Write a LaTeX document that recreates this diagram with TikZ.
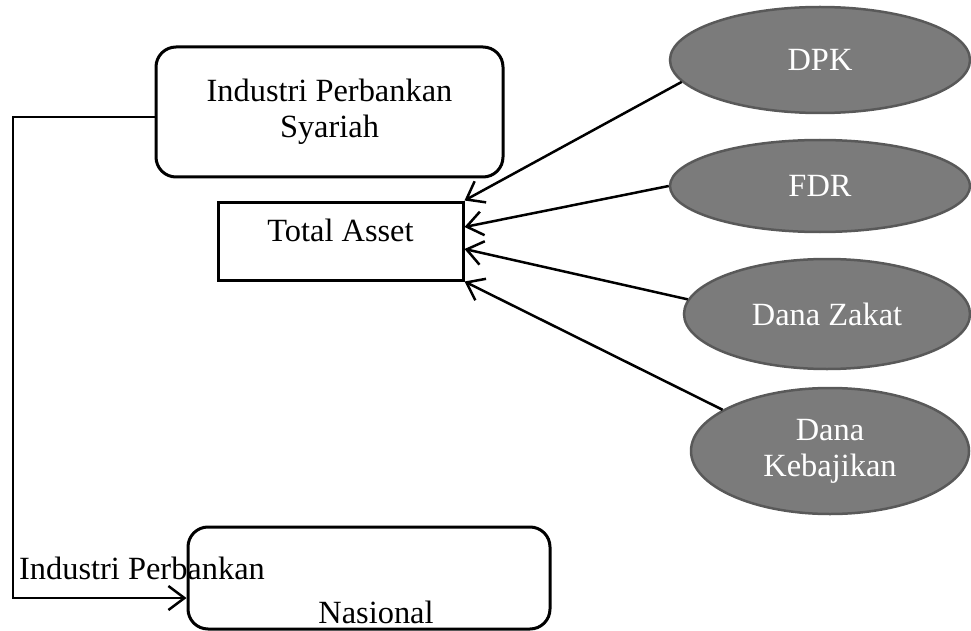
\documentclass[tikz,border=0pt]{standalone}
\usepackage{fontspec}
\setmainfont{Liberation Serif}
\usetikzlibrary{shapes.geometric,arrows.meta}
\definecolor{ellipseFill}{HTML}{7B7B7B}
\definecolor{ellipseBorder}{HTML}{595959}
\tikzstyle{diagram} = [x = 1pt, y = -1pt, font=\fontsize{32.4}{36}\selectfont]
\tikzstyle{bankBox} = [draw, rounded corners = 20pt, line width = 3pt]
\tikzstyle{assetBox} = [draw, line width = 3pt, minimum width = 245pt, minimum height = 78pt, text depth = 22pt]
\tikzstyle{factorStyle} = [ellipse, draw=ellipseBorder, fill=ellipseFill, line width = 2.5pt, text=white, inner sep=0pt, align=center]
\tikzstyle{arrowLine} = [line width = 2.5pt, -{Straight Barb[length=16pt, width=24pt, line width=2.5pt]}]
\newcommand{\factor}[6]{\node [factorStyle, minimum width = #4pt, minimum height = #5pt] (#1) at (#2, #3) {#6};}
\begin{document}
\begin{tikzpicture}[diagram]
  \useasboundingbox (0,0) rectangle (971,631);
  % boxes
  \node [bankBox, minimum width = 347pt, minimum height = 130pt, align=center] (syariah) at (329.5,112) {Industri Perbankan\\Syariah};
  \node [assetBox] (asset) at (340.5,241) {Total Asset};
  \node [bankBox, minimum width = 362pt, minimum height = 102pt] (nasional) at (369,578) {};
  \node [inner sep=0pt] (nasionalTop) at (142,568) {Industri Perbankan};
  \node [inner sep=0pt] (nasionalBottom) at (376,612) {Nasional};
  % factors
  \factor{dpk}{820}{60}{300}{106}{DPK}
  \factor{fdr}{820}{186}{300}{92}{FDR}
  \factor{zakat}{827}{314}{286}{110}{Dana Zakat}
  \factor{kebajikan}{830}{451}{278}{126}{Dana\\Kebajikan}
  \draw [arrowLine] (dpk.189) -- (asset.north east);
  \draw [arrowLine] (fdr.west) -- ([yshift=14pt]asset.east);
  \draw [arrowLine] (zakat.174) -- ([yshift=-8pt]asset.east);
  \draw [arrowLine] (kebajikan.159) -- (asset.south east);
  % left connector
  \coordinate (leftTop) at (13,117);
  \coordinate (leftBottom) at (13,598);
  \draw [arrowLine] (syariah.west |- leftTop) -- (leftTop) -- (leftBottom) -- (nasional.west |- leftBottom);
\end{tikzpicture}
\end{document}
